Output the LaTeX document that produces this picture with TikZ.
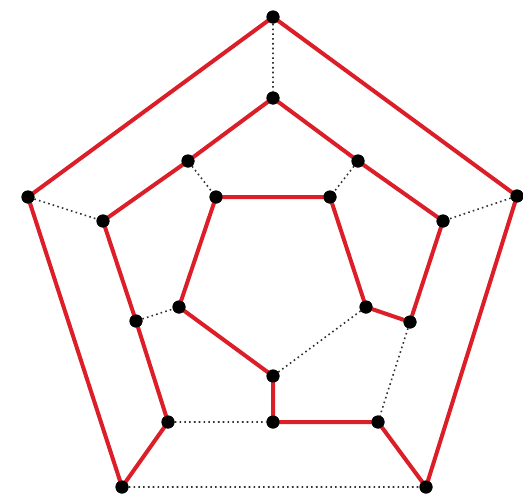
\documentclass[tikz,border=0pt]{standalone}
\begin{document}
\begin{tikzpicture}[x=1pt,y=-1pt,
  vert/.style={circle,fill=black,inner sep=0pt,minimum size=13pt},
  ham/.style={draw={rgb,255:red,220;green,30;blue,40},line width=4pt},
  other/.style={draw=black!80,line width=1.6pt,dash pattern=on 1.6pt off 3.2pt}]
\useasboundingbox (0,0) rectangle (523,501);
\node[vert] (O1) at (273,17) {};
\node[vert] (O2) at (28,197) {};
\node[vert] (O3) at (122,487) {};
\node[vert] (O4) at (426,487) {};
\node[vert] (O5) at (517,196) {};
\node[vert] (M1) at (273,98) {};
\node[vert] (A) at (188,161) {};
\node[vert] (B) at (103,221) {};
\node[vert] (C) at (136,321) {};
\node[vert] (D) at (168,422) {};
\node[vert] (E) at (273,422) {};
\node[vert] (F) at (378,422) {};
\node[vert] (G) at (410,322) {};
\node[vert] (H) at (443,221) {};
\node[vert] (I) at (358,161) {};
\node[vert] (J) at (216,197) {};
\node[vert] (K) at (330,197) {};
\node[vert] (L) at (366,307) {};
\node[vert] (N) at (273,376) {};
\node[vert] (P) at (179,307) {};
\begin{scope}[on background layer/.try]
\end{scope}
\path[other] (O1) -- (M1) (O2) -- (B) (O5) -- (H) (O3) -- (O4) (A) -- (J) (I) -- (K) (C) -- (P) (D) -- (E) (N) -- (L) (G) -- (F);
\path[ham] (O1.center) -- (O2.center) -- (O3.center) -- (D.center) -- (C.center) -- (B.center) -- (A.center) -- (M1.center) -- (I.center) -- (H.center) -- (G.center) -- (L.center) -- (K.center) -- (J.center) -- (P.center) -- (N.center) -- (E.center) -- (F.center) -- (O4.center) -- (O5.center) -- cycle;
\foreach \v in {O1,O2,O3,O4,O5,M1,A,B,C,D,E,F,G,H,I,J,K,L,N,P}
  \fill (\v) circle (6.5pt);
\end{tikzpicture}
\end{document}
